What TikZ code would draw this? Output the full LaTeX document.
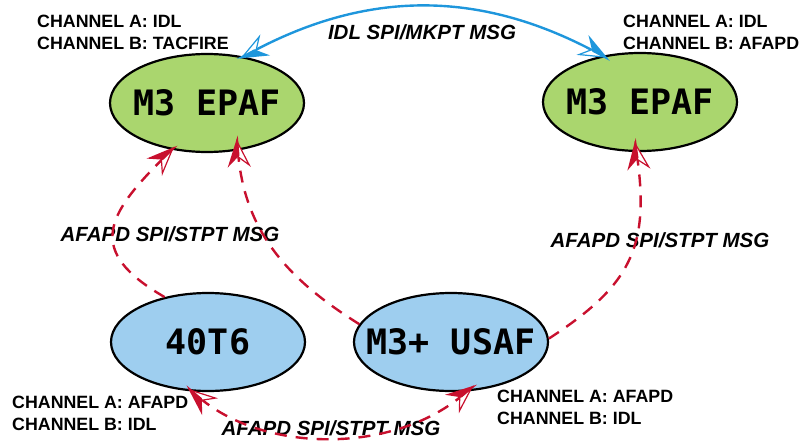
\documentclass[tikz,border=0pt]{standalone}
\usepackage{fontspec}
\setmainfont{Liberation Sans}
\newfontfamily\unitfont{DejaVu Sans Mono}
\usetikzlibrary{shapes.geometric,arrows.meta}
\definecolor{epafgreen}{RGB}{170,214,110}
\definecolor{usafblue}{RGB}{158,206,239}
\definecolor{msgred}{RGB}{200,16,46}
\definecolor{idlblue}{RGB}{30,150,220}
\tikzset{barb/.tip={Stealth[harpoon,swap,open,fill=white,length=28pt,width=23pt,inset=10pt,line width=1.2pt,sep=-28pt]Stealth[harpoon,length=28pt,width=23pt,inset=10pt]}}

\begin{document}
\begin{tikzpicture}[x=1pt, y=1pt, >=barb,
  sysnode/.style={ellipse, draw, line width=2.2pt, minimum width=194pt, minimum height=98pt, inner sep=0pt, font=\unitfont\bfseries\fontsize{35}{35}\selectfont},
  chan/.style={anchor=north west, inner sep=0pt, align=left, font=\bfseries\fontsize{17.8}{21.5}\selectfont},
  msg/.style={anchor=base, inner sep=0pt, font=\bfseries\itshape\fontsize{20.5}{24}\selectfont},
  msgline/.style={line width=2.4pt},
  stpt/.style={msgline, msgred, dash pattern=on 12pt off 9pt}]
\useasboundingbox (0,0) rectangle (806,440);

\node[sysnode, fill=epafgreen] (epafL) at (207,337) {\makebox[0pt]{M3 EPAF}};
\node[sysnode, fill=epafgreen] (epafR) at (640,338) {\makebox[0pt]{M3 EPAF}};
\node[sysnode, fill=usafblue] (t6) at (208,98) {\makebox[0pt]{40T6}};
\node[sysnode, fill=usafblue] (usaf) at (451,98) {\makebox[0pt]{M3+ USAF}};

\node[chan] (chanL) at (37,425) {CHANNEL A: IDL\\CHANNEL B: TACFIRE};
\node[chan] (chanR) at (623,425) {CHANNEL A: IDL\\CHANNEL B: AFAPD};
\node[chan] (chanT6) at (12,44) {CHANNEL A: AFAPD\\CHANNEL B: IDL};
\node[chan] (chanU) at (497,50) {CHANNEL A: AFAPD\\CHANNEL B: IDL};

\node[msg] (mkpt) at (422,400) {IDL SPI/MKPT MSG};
\node[msg] (stptL) at (170,199) {AFAPD SPI/STPT MSG};
\node[msg] (stptR) at (660,193) {AFAPD SPI/STPT MSG};
\node[msg] (stptB) at (331,5) {AFAPD SPI/STPT MSG};

% messages
\draw[msgline, idlblue, <->, shorten <=-7pt, shorten >=-9pt] (epafL.52) to[out=28, in=152] (epafR.129);
\draw[stpt, ->, shorten >=-7pt] (t6.134) to[out=150, in=225, looseness=1.6] (epafL.-127);
\draw[stpt, ->, shorten >=-15pt] (usaf.169) to[out=148, in=275] (epafL.-57);
\draw[stpt, ->, shorten >=-14pt] (usaf.2) to[out=33, in=278, looseness=1.2] (epafR.-94);
\draw[stpt, <->, shorten <=-8pt, shorten >=-12pt] (t6.-108) to[out=-40, in=220, looseness=0.9] (usaf.-72);
\end{tikzpicture}
\end{document}
